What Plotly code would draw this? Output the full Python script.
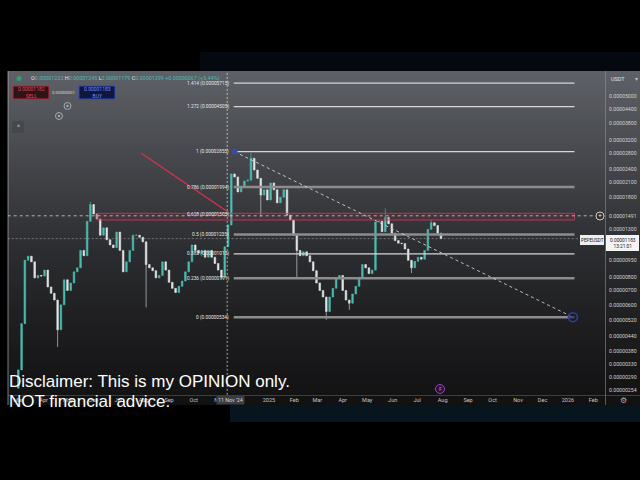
import math
import pandas as pd
import plotly.graph_objects as go

W, H = 640, 480

# ---------------- data (prices in units of 1e-6 USDT) ----------------
start_date = "2024-03-01"
step_days = 4
first_open_e6 = 2.6
closes_e6 = [3.13, 5.0, 9.5, 9.9, 9.35, 7.95, 8.15, 8.1, 8.6, 7.25,
             6.8, 6.35, 4.7, 6.05, 7.8, 7.0, 7.55, 8.45, 8.8, 10.5,
             9.95, 14.1, 16.7, 15.2, 14.45, 12.25, 13.2, 11.7, 11.1, 10.8,
             12.65, 10.5, 8.45, 9.35, 10.5, 12.25, 12.25, 12.0, 11.45, 9.1,
             8.8, 8.55, 7.95, 8.15, 9.35, 8.6, 7.6, 7.15, 6.85, 7.3,
             7.7, 8.45, 9.35, 11.1, 10.5, 10.2, 10.5, 9.8, 10.5, 9.8,
             9.2, 8.6, 8.0, 10.9, 13.6, 22.8, 22.1, 19.0, 20.0, 21.2,
             21.4, 26.7, 23.7, 21.8, 18.4, 19.4, 17.5, 20.8, 19.4, 17.0,
             18.0, 19.4, 15.0, 14.3, 12.25, 10.5, 9.95, 10.35, 9.95, 9.35,
             8.55, 7.55, 7.0, 6.55, 5.65, 6.55, 7.15, 7.95, 8.15, 7.0,
             6.35, 6.15, 6.75, 7.3, 8.0, 9.1, 8.8, 8.3, 8.6, 14.0,
             14.1, 12.7, 14.7, 13.75, 12.5, 11.6, 11.3, 11.25, 10.65, 9.5,
             8.8, 9.4, 9.8, 9.6, 10.5, 13.0, 13.9, 13.5, 12.5, 11.83]
wick_high_idx = [22, 71, 112, 126]
wick_high_e6 = [17.2, 28.2, 16.1, 14.3]
wick_low_idx = [12, 39, 62, 74, 85, 94, 101, 120]
wick_low_e6 = [3.95, 5.9, 7.8, 14.7, 8.0, 5.2, 5.75, 8.35]

fib_ratios = ["1.414", "1.272", "1", "0.786", "0.618", "0.5", "0.382", "0.236", "0"]
fib_prices = [0.00005715, 0.00004505, 0.00002855, 0.00001994, 0.00001505,
              0.00001235, 0.00001013, 0.00000791, 0.00000534]
fib_start, fib_end = "2024-11-19", "2026-01-09"
zone_start = "2024-06-05"
zone_low, zone_high = 0.00001429, 0.00001529

price_ticks = [0.00005000, 0.00004400, 0.00003800, 0.00003200, 0.00002800,
               0.00002400, 0.00002100, 0.00001800, 0.00001491, 0.00001300,
               0.00000950, 0.00000800, 0.00000700, 0.00000600, 0.00000520,
               0.00000440, 0.00000380, 0.00000330, 0.00000290, 0.00000254]
month_ticks = ["2024-03-01", "2024-04-01", "2024-05-01", "2024-06-01", "2024-07-01",
               "2024-08-01", "2024-09-01", "2024-10-01", "2024-11-01", "2025-01-01",
               "2025-02-01", "2025-03-01", "2025-04-01", "2025-05-01", "2025-06-01",
               "2025-07-01", "2025-08-01", "2025-09-01", "2025-10-01", "2025-11-01",
               "2025-12-01", "2026-01-01", "2026-02-01"]
month_labels = ["Mar", "Apr", "May", "Jun", "Jul", "Aug", "Sep", "Oct", "Nov", "2025",
                "Feb", "Mar", "Apr", "May", "Jun", "Jul", "Aug", "Sep", "Oct", "Nov",
                "Dec", "2026", "Feb"]

red_line_x = ["2024-07-29", "2024-11-12"]
red_line_y = [0.0000281, 0.0000155]
trend_x = ["2024-11-20", "2026-01-07"]
trend_y = [0.00002855, 0.00000534]
crosshair_date = "2024-11-11"
crosshair_price = 0.00001491
last_price = 0.00001183

# ---------------- build OHLC ----------------
dates = pd.date_range(start_date, periods=len(closes_e6), freq=f"{step_days}D")
closes = [c * 1e-6 for c in closes_e6]
opens = [first_open_e6 * 1e-6] + closes[:-1]
highs = [max(o, c) for o, c in zip(opens, closes)]
lows = [min(o, c) for o, c in zip(opens, closes)]
for i, v in zip(wick_high_idx, wick_high_e6):
    highs[i] = max(highs[i], v * 1e-6)
for i, v in zip(wick_low_idx, wick_low_e6):
    lows[i] = min(lows[i], v * 1e-6)

fig = go.Figure()

def px(x):
    return x / W

def py(y):
    return 1 - y / H

# panel gradient background
stops = [(71, (94, 97, 103)), (150, (72, 74, 79)), (250, (44, 45, 48)),
         (330, (29, 29, 31)), (405, (17, 17, 18))]
def col_at(y):
    for (y0, c0), (y1, c1) in zip(stops[:-1], stops[1:]):
        if y0 <= y <= y1:
            t = (y - y0) / (y1 - y0)
            return tuple(int(round(a + (b - a) * t)) for a, b in zip(c0, c1))
    return stops[-1][1]

shapes = []
y = 71
while y < 405:
    y2 = min(y + 4, 405)
    c = col_at((y + y2) / 2)
    shapes.append(dict(type="rect", xref="paper", yref="paper", layer="below",
                       x0=px(8), x1=px(640), y0=py(y2), y1=py(y),
                       fillcolor=f"rgb{c}", line=dict(width=0)))
    y = y2

# space glow
shapes.append(dict(type="rect", xref="paper", yref="paper", layer="below",
                   x0=px(230), x1=px(640), y0=py(422), y1=py(405),
                   fillcolor="rgba(20,70,100,0.3)", line=dict(width=0)))
shapes.append(dict(type="rect", xref="paper", yref="paper", layer="below",
                   x0=px(200), x1=px(640), y0=py(71), y1=py(52),
                   fillcolor="rgba(25,45,85,0.18)", line=dict(width=0)))
# separators
shapes.append(dict(type="line", xref="paper", yref="paper", x0=px(605.5), x1=px(605.5),
                   y0=py(405), y1=py(71), line=dict(color="rgba(150,150,150,0.55)", width=1)))
shapes.append(dict(type="line", xref="paper", yref="paper", x0=px(8), x1=px(640),
                   y0=py(395.5), y1=py(395.5), line=dict(color="rgba(120,120,120,0.45)", width=1)))
shapes.append(dict(type="line", xref="paper", yref="paper", x0=px(8), x1=px(8),
                   y0=py(405), y1=py(71), line=dict(color="rgba(200,200,200,0.6)", width=1)))

def line_trace(xs, ys, color, width, dash="solid"):
    fig.add_trace(go.Scatter(x=xs, y=ys, mode="lines", hoverinfo="skip", showlegend=False,
                             line=dict(color=color, width=width, dash=dash)))

# 0.618 zone
fig.add_trace(go.Scatter(x=[zone_start, fib_end, fib_end, zone_start, zone_start],
                         y=[zone_low, zone_low, zone_high, zone_high, zone_low],
                         mode="lines", fill="toself", fillcolor="rgba(150,30,60,0.22)",
                         line=dict(color="rgba(205,60,95,0.8)", width=1),
                         hoverinfo="skip", showlegend=False))

# fib lines
fib_styles = {"1.414": ("#d6d6d6", 1.2), "1.272": ("#d6d6d6", 1.2), "1": ("#d6d6d6", 1.2),
              "0.786": ("#8c8c8c", 2.5), "0.618": ("rgba(0,0,0,0)", 0.1),
              "0.5": ("#8c8c8c", 2.5), "0.382": ("#d6d6d6", 1.2),
              "0.236": ("#8c8c8c", 2.5), "0": ("#8c8c8c", 2.5)}
for r, p in zip(fib_ratios, fib_prices):
    c, w = fib_styles[r]
    line_trace([fib_start, fib_end], [p, p], c, w)

# crosshair + last price lines
line_trace(["2024-02-17", "2026-02-04"], [crosshair_price] * 2, "rgba(235,235,235,0.85)", 0.8, "3px,3px")
line_trace(["2024-02-17", "2026-01-15"], [last_price] * 2, "rgba(170,170,170,0.7)", 0.8, "2px,2px")
line_trace([crosshair_date] * 2, [2.43e-6, 6.4e-5], "rgba(235,235,235,0.85)", 0.8, "2px,2px")

# candles
fig.add_trace(go.Candlestick(x=dates, open=opens, high=highs, low=lows, close=closes,
                             increasing=dict(line=dict(color="#4cbcb0", width=0.6), fillcolor="#4cbcb0"),
                             decreasing=dict(line=dict(color="#dfe5e5", width=0.6), fillcolor="#dfe5e5"),
                             whiskerwidth=0, hoverinfo="skip", showlegend=False))

# trend lines
line_trace(red_line_x, red_line_y, "#d7304f", 1.4)
line_trace(trend_x, trend_y, "rgba(215,215,215,0.85)", 1, "3px,3px")
fig.add_trace(go.Scatter(x=[trend_x[0]], y=[trend_y[0]], mode="markers", hoverinfo="skip",
                         showlegend=False, marker=dict(size=6, color="#3b4aa6")))
fig.add_trace(go.Scatter(x=[trend_x[1]], y=[trend_y[1]], mode="markers", hoverinfo="skip",
                         showlegend=False,
                         marker=dict(size=9, color="rgba(20,25,60,0.6)",
                                     line=dict(color="#33449a", width=1.5))))

ann = []
for r, p in zip(fib_ratios, fib_prices):
    ann.append(dict(x=fib_start, y=math.log10(p), xref="x", yref="y", xanchor="right",
                    yanchor="middle", xshift=-3, showarrow=False,
                    text=f"{r} ({p:.8f})", font=dict(size=4.8, color="#e6e6e6", family="Roboto")))

def pann(x, y, text, size=6, color="#d0d0d0", xanchor="left", family="Roboto", **kw):
    ann.append(dict(x=px(x), y=py(y), xref="paper", yref="paper", xanchor=xanchor,
                    yanchor="middle", showarrow=False, text=text,
                    font=dict(size=size, color=color, family=family), **kw))

teal = "#4cbcb0"
lab = "#e3e6e8"
ohlc = (f"<span style='color:{lab}'>O</span><span style='color:{teal}'>0.00001232</span> "
        f"<span style='color:{lab}'>H</span><span style='color:{teal}'>0.00001245</span> "
        f"<span style='color:{lab}'>L</span><span style='color:{teal}'>0.00001179</span> "
        f"<span style='color:{lab}'>C</span><span style='color:{teal}'>0.00001299 +0.00000067 (+5.44%)</span>")
pann(29, 78.5, ohlc, size=5.4)
shapes.append(dict(type="circle", xref="paper", yref="paper", x0=px(16.5), x1=px(21.5),
                   y0=py(81), y1=py(76), fillcolor="#2e9e6a", line=dict(width=0)))

# sell / buy boxes
shapes.append(dict(type="rect", xref="paper", yref="paper", x0=px(13), x1=px(49),
                   y0=py(99), y1=py(86), fillcolor="#2b1519", line=dict(color="#c3283a", width=1)))
shapes.append(dict(type="rect", xref="paper", yref="paper", x0=px(79), x1=px(115),
                   y0=py(99), y1=py(86), fillcolor="#11173c", line=dict(color="#2b4ccc", width=1)))
pann(31, 92.5, "0.00001182<br>SELL", size=5, color="#e8414f", xanchor="center")
pann(97, 92.5, "0.00001183<br>BUY", size=5, color="#6f8dff", xanchor="center")
pann(63, 92, "0.00000001", size=4.3, color="#d8d8d8", xanchor="center")

# eye icons and collapse button
for cx, cy in [(67.5, 106), (59, 116)]:
    shapes.append(dict(type="circle", xref="paper", yref="paper", x0=px(cx - 3.5), x1=px(cx + 3.5),
                       y0=py(cy + 3.5), y1=py(cy - 3.5), line=dict(color="#a7abb0", width=1)))
    shapes.append(dict(type="circle", xref="paper", yref="paper", x0=px(cx - 1.2), x1=px(cx + 1.2),
                       y0=py(cy + 1.2), y1=py(cy - 1.2), fillcolor="#a7abb0", line=dict(width=0)))
shapes.append(dict(type="rect", xref="paper", yref="paper", x0=px(12), x1=px(24),
                   y0=py(133), y1=py(121), fillcolor="#45484e", line=dict(width=0)))
pann(18, 128, "^", size=7, color="#c8c8c8", xanchor="center")

# price axis extras
pann(609, 79, "USDT", size=5.5, color="#e0e0e0")
pann(636, 79, "▾", size=6, color="#c0c0c0", xanchor="center", family="DejaVu Sans")
shapes.append(dict(type="circle", xref="paper", yref="paper", x0=px(596), x1=px(604),
                   y0=py(220), y1=py(212), fillcolor="rgba(40,40,44,0.8)",
                   line=dict(color="#d0d0d0", width=1)))
pann(600, 216, "+", size=7, color="#e0e0e0", xanchor="center")
shapes.append(dict(type="rect", xref="paper", yref="paper", x0=px(580), x1=px(604),
                   y0=py(245), y1=py(235), fillcolor="#eeeeee", line=dict(width=0)))
pann(592, 240, "PEPEUSDT", size=4.6, color="#131722", xanchor="center")
shapes.append(dict(type="rect", xref="paper", yref="paper", x0=px(606), x1=px(639),
                   y0=py(251), y1=py(235), fillcolor="#f4f4f4", line=dict(width=0)))
pann(622.5, 243, "0.00001183<br>13:21:01", size=4.8, color="#131722", xanchor="center")

# x-axis extras
pann(230, 400, "11 Nov '24", size=5.3, color="#d6d6d6", xanchor="center",
     bgcolor="#3a3d44", borderpad=1)
shapes.append(dict(type="circle", xref="paper", yref="paper", x0=px(435.5), x1=px(444.5),
                   y0=py(393.5), y1=py(384.5), fillcolor="#2a1233", line=dict(color="#a23bd0", width=1)))
pann(440, 389, "F", size=5.5, color="#c07ae8", xanchor="center")
pann(623, 400, "⚙", size=8, color="#b0b0b0", xanchor="center", family="DejaVu Sans")

# disclaimer
pann(7, 381, "Disclaimer: This is my OPINION only.", size=17, color="#ffffff",
     family="Liberation Sans, Arial")
pann(7, 401, "NOT financial advice.", size=17, color="#ffffff", family="Liberation Sans, Arial")

ymin = math.log10(2.4266e-6)
ymax = math.log10(6.401e-5)
fig.update_layout(
    width=W, height=H, margin=dict(l=0, r=0, t=0, b=0),
    paper_bgcolor="#000000", plot_bgcolor="rgba(0,0,0,0)",
    shapes=shapes, annotations=ann, showlegend=False,
    font=dict(family="Roboto", color="#cccccc"),
    xaxis=dict(domain=[px(8), px(605)], type="date",
               range=["2024-02-17 10:00", "2026-02-15 05:00"],
               tickvals=month_ticks, ticktext=month_labels, showgrid=False,
               zeroline=False, showline=False, ticks="", tickfont=dict(size=5.5, color="#c4c4c4"),
               rangeslider=dict(visible=False), fixedrange=True),
    yaxis=dict(domain=[1 - 395 / H, 1 - 72 / H], type="log", side="right",
               range=[ymin, ymax], tickvals=price_ticks,
               ticktext=[f"{v:.8f}" for v in price_ticks], showgrid=False,
               zeroline=False, showline=False, ticks="", ticklabelstandoff=3,
               tickfont=dict(size=5.2, color="#d2d2d2"), fixedrange=True),
)

fig.write_html("out.html", config={"displayModeBar": False},
               post_script="document.body.style.margin='0';document.body.style.overflow='hidden';")
